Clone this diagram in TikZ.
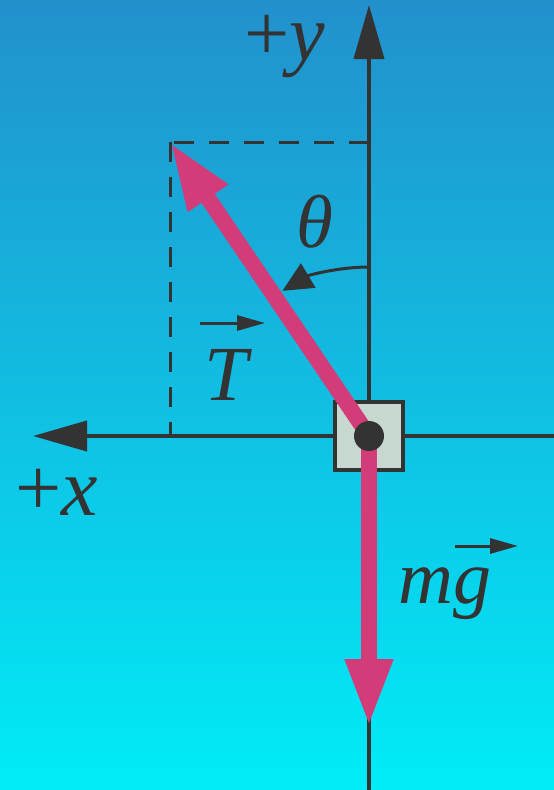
\documentclass[tikz,border=0pt]{standalone}
\usepackage{fontspec}
\setmainfont{Liberation Serif}
\usetikzlibrary{arrows.meta}
\definecolor{bgtop}{HTML}{2290CC}
\definecolor{bgmid}{HTML}{02BCDC}
\definecolor{bgbot}{HTML}{00ECF8}
\definecolor{dark}{HTML}{333333}
\definecolor{force}{HTML}{D23C78}
\definecolor{boxfill}{HTML}{C6D8CF}
\tikzset{
  axisline/.style={draw=dark, line width=4pt, -{Triangle[length=54pt,width=30pt]}},
  dashline/.style={draw=dark, line width=3pt, dash pattern=on 20pt off 15pt},
  forcearrow/.style={draw=force, line width=16pt, -{Triangle[length=68pt,width=44pt]}},
  anglearrow/.style={draw=dark, line width=3pt, -{Triangle[length=30pt,width=28pt]}},
  vecarrow/.style={draw=dark, line width=3pt, -{Triangle[length=28pt,width=15pt]}},
  lbl/.style={inner sep=0pt, text=dark},
}
\begin{document}
\begin{tikzpicture}[x=1pt,y=-1pt]
\shade[top color=bgtop, middle color=bgmid, bottom color=bgbot] (0,0) rectangle (554,790);
\useasboundingbox (0,0) rectangle (554,790);
% coordinates
\coordinate (O) at (369,436);
\coordinate (ytop) at (369,5);
\coordinate (ybot) at (369,790);
\coordinate (xtip) at (33,436);
\coordinate (xright) at (554,436);
\coordinate (Ttip) at (170,142);
\coordinate (corner) at (369,142);
\coordinate (xfoot) at (170,436);
\coordinate (mgtip) at (369,727);
\coordinate (arcstart) at (369,267);
\coordinate (Tvs) at (200,323);
\coordinate (Tve) at (265,323);
\coordinate (mvs) at (455,546);
\coordinate (mve) at (518,546);
% axes
\draw[axisline] (ybot) -- (ytop);
\draw[axisline] (xright) -- (xtip);
% dashed components
\draw[dashline] (corner) -- (Ttip);
\draw[dashline] (Ttip) -- (xfoot);
% angle arc (y axis is flipped, so angles are negated)
\draw[anglearrow] (arcstart) arc[start angle=-90, end angle=-120.8, radius=169];
% block
\node[draw=dark, line width=4pt, fill=boxfill, minimum size=68pt, inner sep=0pt] (box) at (O) {};
% forces
\draw[forcearrow] (O) -- (Ttip);
\draw[forcearrow] (O) -- (mgtip);
\node[circle, fill=dark, minimum size=30pt, inner sep=0pt] (dot) at (O) {};
% labels
\node[lbl, anchor=base west] (ylbl) at (244,60) {\fontsize{80}{82}\selectfont +\textit{y}};
\node[lbl, anchor=base west] (xlbl) at (15,515) {\fontsize{82}{84}\selectfont +\textit{x}};
\node[lbl, anchor=base] (Tlbl) at (228,400) {\fontsize{78}{80}\selectfont \textit{T}};
\node[lbl] (thlbl) at (315,222) {\fontsize{75}{77}\selectfont \textit{θ}};
\node[lbl, anchor=base west] (mglbl) at (398,603) {\fontsize{76}{78}\selectfont \textit{mg}};
\draw[vecarrow] (Tvs) -- (Tve);
\draw[vecarrow] (mvs) -- (mve);
\end{tikzpicture}
\end{document}
